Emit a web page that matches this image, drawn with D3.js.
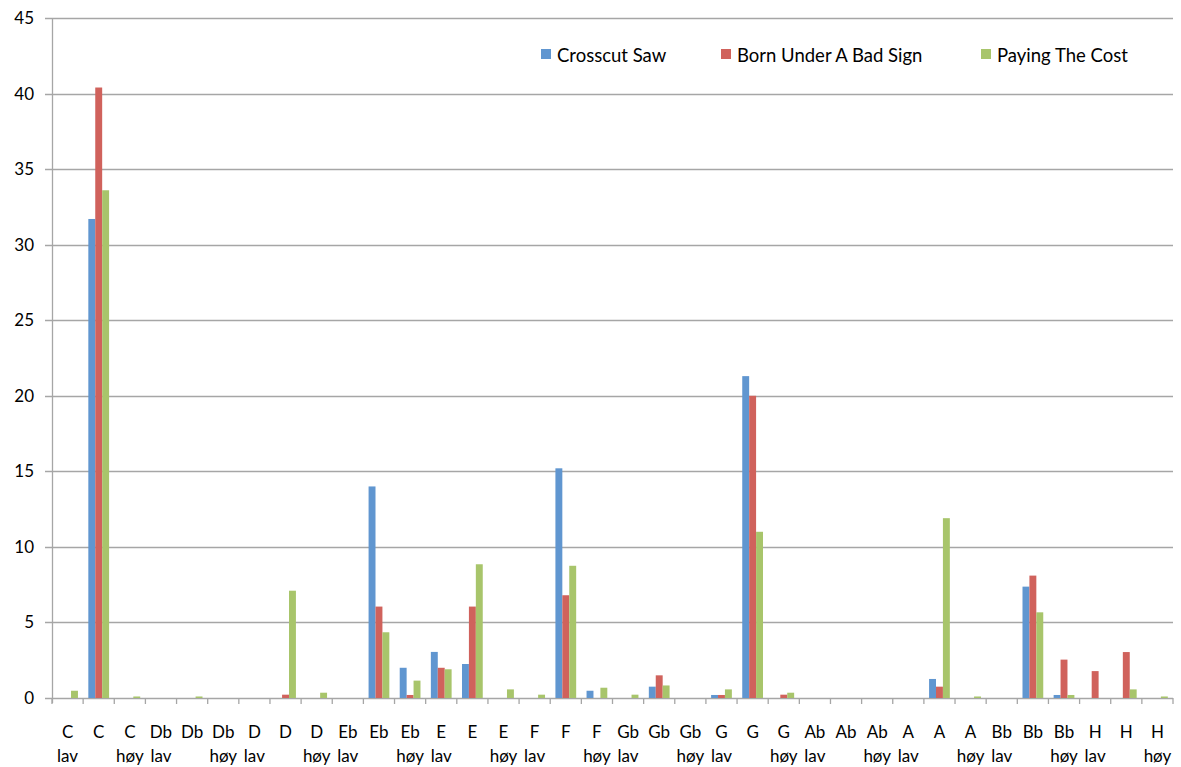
<!DOCTYPE html>
<html><head><meta charset="utf-8">
<script src="https://cdn.jsdelivr.net/npm/d3@7"></script>
<style>body{margin:0;background:#fff}svg text{font-family:Lato,"Open Sans",sans-serif;fill:#000}</style>
</head><body>
<svg id="c" width="1181" height="767"></svg>
<script>
const categories = [
 ["C","lav"],["C",""],["C","høy"],["Db","lav"],["Db",""],["Db","høy"],
 ["D","lav"],["D",""],["D","høy"],["Eb","lav"],["Eb",""],["Eb","høy"],
 ["E","lav"],["E",""],["E","høy"],["F","lav"],["F",""],["F","høy"],
 ["Gb","lav"],["Gb",""],["Gb","høy"],["G","lav"],["G",""],["G","høy"],
 ["Ab","lav"],["Ab",""],["Ab","høy"],["A","lav"],["A",""],["A","høy"],
 ["Bb","lav"],["Bb",""],["Bb","høy"],["H","lav"],["H",""],["H","høy"]];
const seriesNames = ["Crosscut Saw","Born Under A Bad Sign","Paying The Cost"];
const crosscutSaw = [0,31.7,0, 0,0,0, 0,0,0, 0,14.0,2.0, 3.05,2.25,0, 0,15.2,0.48, 0,0.75,0, 0.2,21.3,0, 0,0,0, 0,1.26,0, 0,7.37,0.2, 0,0,0];
const bornUnder   = [0,40.4,0, 0,0,0, 0,0.22,0, 0,6.05,0.2, 2.0,6.05,0, 0,6.8,0, 0,1.5,0, 0.2,20.0,0.22, 0,0,0, 0,0.75,0, 0,8.1,2.54, 1.78,3.04,0];
const payingCost  = [0.48,33.6,0.1, 0,0.1,0, 0,7.1,0.35, 0,4.35,1.15, 1.9,8.85,0.57, 0.22,8.75,0.68, 0.22,0.83,0, 0.57,11.0,0.35, 0,0,0, 0,11.9,0.1, 0,5.67,0.2, 0,0.57,0.1];
const yTicks = [0,5,10,15,20,25,30,35,40,45];
const colors = ["#6096D0","#D0625C","#A8C56B"];
const series = [crosscutSaw, bornUnder, payingCost];

(function(){
const svg = d3.select("#c");
const pl = 52, pr = 1173, pt = 18, pb = 698;
const x = d3.scaleBand().domain(d3.range(categories.length)).range([pl,pr]).paddingInner(0).paddingOuter(0);
const y = d3.scaleLinear().domain([0,45]).range([pb,pt]);
const xs = d3.scaleBand().domain(d3.range(3)).range([0,x.bandwidth()]).paddingOuter(0.75).paddingInner(0);

svg.append("g").selectAll("line").data(yTicks).join("line")
  .attr("x1",pl-7).attr("x2",pr).attr("y1",d=>Math.round(y(d))+0.5).attr("y2",d=>Math.round(y(d))+0.5)
  .attr("stroke","#A6A6A6").attr("stroke-width",1.3);
svg.append("g").selectAll("text").data(yTicks).join("text")
  .attr("x",34).attr("y",d=>y(d)+6).attr("text-anchor","end").attr("font-size",17).text(d=>d);
svg.append("line").attr("x1",pl+0.5).attr("x2",pl+0.5).attr("y1",pt).attr("y2",pb+5).attr("stroke","#A6A6A6").attr("stroke-width",1.3);
svg.append("g").selectAll("line").data(d3.range(categories.length+1)).join("line")
  .attr("x1",i=>pl+i*x.step()).attr("x2",i=>pl+i*x.step()).attr("y1",pb).attr("y2",pb+6)
  .attr("stroke","#A6A6A6").attr("stroke-width",1.3);

series.forEach((vals,si)=>{
  svg.append("g").selectAll("rect").data(vals).join("rect")
    .attr("x",(d,i)=>x(i)+xs(si)).attr("width",xs.bandwidth())
    .attr("y",d=>y(d)).attr("height",d=>pb-y(d)).attr("fill",colors[si]);
});

const xl = svg.append("g").selectAll("text").data(categories).join("text")
  .attr("text-anchor","middle").attr("font-size",17)
  .attr("x",(d,i)=>x(i)+x.bandwidth()/2).attr("y",738);
xl.append("tspan").text(d=>d[0]);
xl.append("tspan").attr("x",(d,i)=>x(i)+x.bandwidth()/2).attr("dy",24).text(d=>d[1]);

const legX = [541,721,981];
seriesNames.forEach((n,i)=>{
  svg.append("rect").attr("x",legX[i]).attr("y",49).attr("width",10).attr("height",10).attr("fill",colors[i]);
  svg.append("text").attr("x",legX[i]+16).attr("y",62).attr("font-size",18.5).text(n);
});
})();
</script>
</body></html>
